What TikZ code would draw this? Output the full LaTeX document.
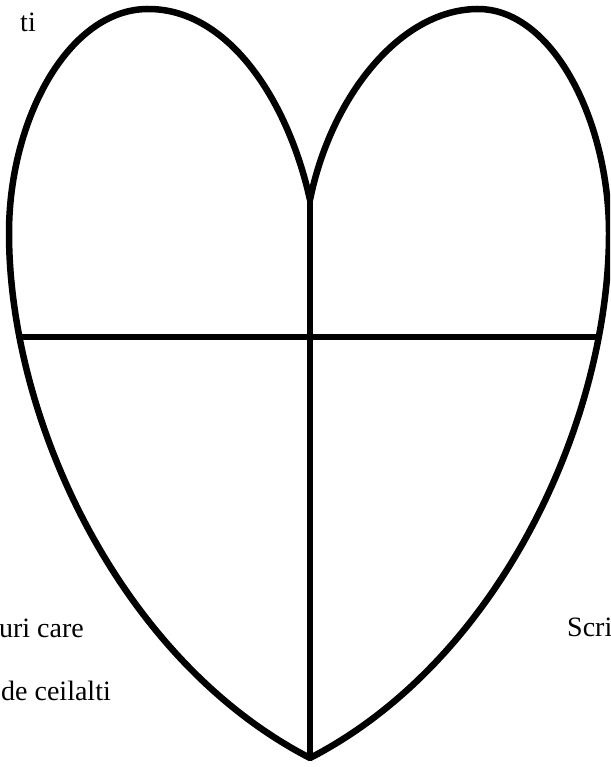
\documentclass[tikz,border=0pt]{standalone}
\usepackage{fontspec}
\setmainfont{Liberation Serif}
\usetikzlibrary{positioning}

\begin{document}
\begin{tikzpicture}[x=1pt, y=-1pt,
  outline/.style={line width=6.5pt, black, line join=round},
  cross/.style={line width=6pt, black},
  note/.style={font=\fontsize{28}{32}\selectfont, inner sep=0pt}]
\useasboundingbox (0,0) rectangle (610,767);
\clip (0,0) rectangle (610,767);
\coordinate (cusp) at (310,200);
\coordinate (tip) at (310,758);
\coordinate (west) at (19,337);
\coordinate (east) at (601,337);
% heart outline
\draw[outline] (cusp) .. controls (288,100) and (228,8) .. (147,9)
  .. controls (68,10) and (9,120) .. (9,233)
  .. controls (9,420) and (120,660) .. (tip)
  .. controls (500,660) and (609,420) .. (609,233)
  .. controls (609,120) and (552,8) .. (477,9)
  .. controls (398,10) and (330,100) .. (cusp);
\draw[cross] (west) -- (east);
\draw[cross] (cusp) -- (tip);
% cut-off texts
\node[note, anchor=base east] (topleft) at (36,32) {ti};
\node[note, anchor=base east] (lowleft) at (84,637) {uri care};
\node[note, anchor=base east] (lowleft2) at (111,700) {de ceilalti};
\node[note, anchor=base west] (right) at (567,636) {Scri};
\end{tikzpicture}
\end{document}
